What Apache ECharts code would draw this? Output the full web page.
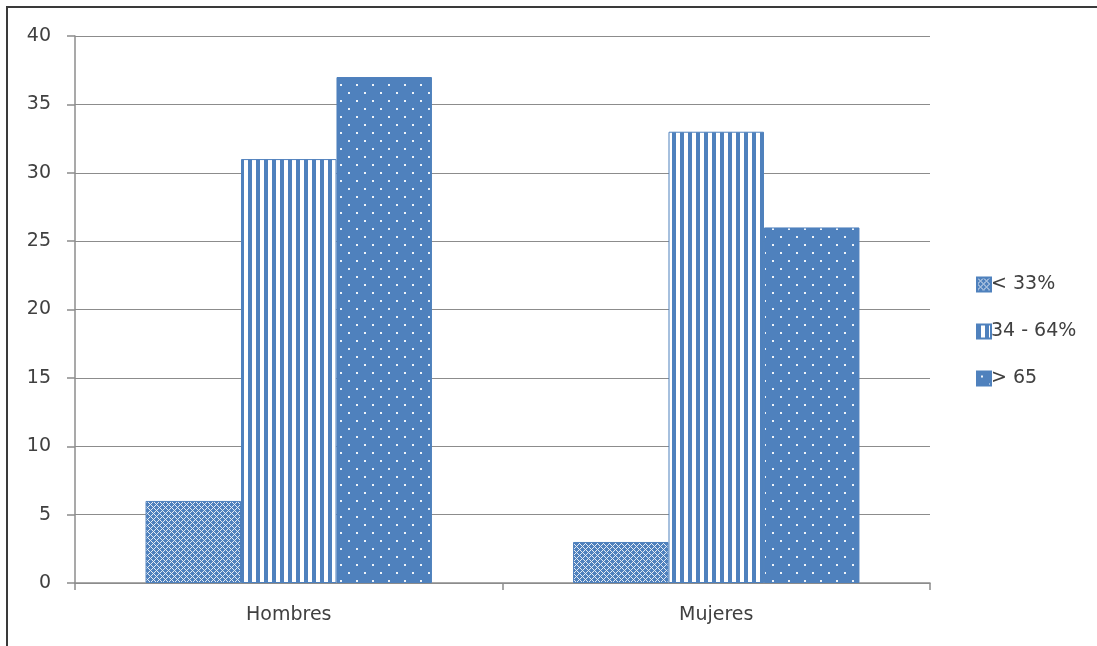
<!DOCTYPE html>
<html>
<head>
<meta charset="utf-8">
<script src="https://cdn.jsdelivr.net/npm/echarts@6/dist/echarts.min.js"></script>
<style>
html,body{margin:0;padding:0;background:#fff;}
#chart{width:1097px;height:646px;}
</style>
</head>
<body>
<div id="chart"></div>
<script>
const categories = ['Hombres', 'Mujeres'];
const seriesNames = ['< 33%', '34 - 64%', '> 65'];
const lowValues = [6, 3];
const midValues = [31, 33];
const highValues = [37, 26];
const yTicks = { min: 0, max: 40, interval: 5 };

const BLUE = '#4F81BD';

function makeTile(w, h, draw) {
  const c = document.createElement('canvas');
  c.width = w; c.height = h;
  const ctx = c.getContext('2d');
  ctx.fillStyle = BLUE;
  ctx.fillRect(0, 0, w, h);
  draw(ctx);
  return c;
}
const hatchTile = makeTile(6, 6, ctx => {
  ctx.fillStyle = 'rgba(255,255,255,0.85)';
  for (let x = 0; x < 6; x++) for (let y = 0; y < 6; y++) {
    if ((x + y) % 6 === 0 || ((x - y + 6) % 6) === 0) ctx.fillRect(x, y, 1, 1);
  }
  ctx.fillStyle = 'rgba(255,255,255,0.35)';
  ctx.fillRect(3, 3, 1, 1);
});
const stripeTile = makeTile(8, 8, ctx => {
  ctx.fillStyle = '#ffffff';
  ctx.fillRect(4, 0, 4, 8);
});
const dotTile = makeTile(16, 16, ctx => {
  ctx.fillStyle = 'rgba(255,255,255,0.9)';
  ctx.fillRect(4, 4, 2, 2);
  ctx.fillRect(12, 12, 2, 2);
});

const patterns = [hatchTile, stripeTile, dotTile];
const dataSets = [lowValues, midValues, highValues];

const chart = echarts.init(document.getElementById('chart'));
const axisGray = '#8c8c8c';
const textColor = '#404040';
const font = 'DejaVu Sans';

chart.setOption({
  animation: false,
  backgroundColor: '#fff',
  graphic: [{
    type: 'rect',
    shape: { x: 7, y: 7, width: 1200, height: 800 },
    style: { fill: 'none', stroke: '#3a3a3a', lineWidth: 2 },
    silent: true
  }],
  grid: { left: 75, right: 167, top: 36, bottom: 63 },
  legend: {
    orient: 'vertical',
    left: 971,
    top: 270,
    itemWidth: 14,
    itemHeight: 14,
    itemGap: 28,
    icon: 'rect',
    textStyle: { fontFamily: font, fontSize: 19, color: textColor, padding: [0, 0, 0, -5] },
    data: seriesNames
  },
  xAxis: {
    type: 'category',
    data: categories,
    axisLine: { lineStyle: { color: axisGray, width: 1.5 } },
    axisTick: { show: true, alignWithLabel: false, length: 7, lineStyle: { color: axisGray, width: 1.5 } },
    axisLabel: { fontFamily: font, fontSize: 19, color: textColor, margin: 23 },
    splitLine: { show: false }
  },
  yAxis: {
    type: 'value',
    min: yTicks.min, max: yTicks.max, interval: yTicks.interval,
    axisLine: { show: true, lineStyle: { color: axisGray, width: 1.5 } },
    axisTick: { show: true, length: 8, lineStyle: { color: axisGray, width: 1.5 } },
    axisLabel: { fontFamily: font, fontSize: 19, color: textColor, margin: 24 },
    splitLine: { show: true, lineStyle: { color: axisGray, width: 1.2 } }
  },
  series: seriesNames.map((name, i) => ({
    name: name,
    type: 'bar',
    data: dataSets[i],
    barGap: '0%',
    barCategoryGap: '33%',
    itemStyle: {
      color: { image: patterns[i], repeat: 'repeat' },
      borderColor: BLUE,
      borderWidth: 1
    }
  }))
});
</script>
</body>
</html>
